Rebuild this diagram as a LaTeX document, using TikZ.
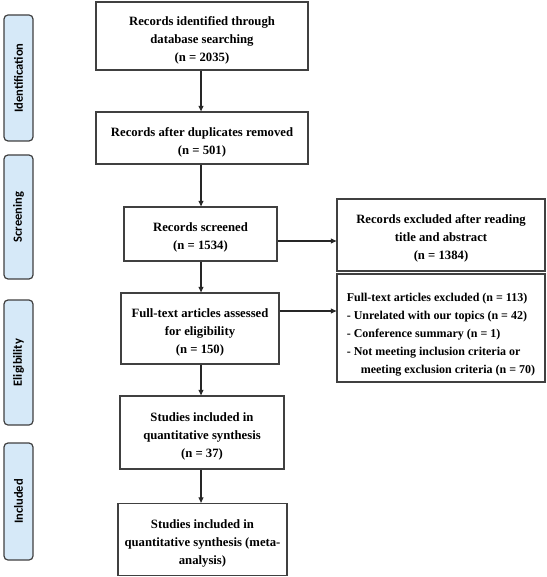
\documentclass[tikz,border=0pt]{standalone}
\usepackage{fontspec}
\setmainfont{Liberation Serif}
\newfontfamily\sidefont{Carlito}
\usetikzlibrary{arrows.meta,calc}
\definecolor{boxline}{HTML}{404040}
\definecolor{sidefill}{HTML}{D6E9F8}
\newcommand\topstrut[1]{\rule{0pt}{#1}}
\begin{document}
\begin{tikzpicture}[x=1pt,y=-1pt,
  box/.style={draw=boxline,line width=1.3pt,fill=white,align=center,inner sep=2pt,
    font=\bfseries\fontsize{12.7}{18}\selectfont},
  sidebox/.style={draw=boxline,line width=1.2pt,fill=sidefill,rounded corners=4pt,
    minimum width=29pt},
  sidetext/.style={rotate=90,font=\sidefont\bfseries\fontsize{12.5}{14}\selectfont},
  arr/.style={draw=black!85,line width=1.1pt,-{Triangle[length=5.5pt,width=5pt]}}]
\useasboundingbox (0,0) rectangle (546,577);
% side labels
\node[sidebox,minimum height=126pt] (sI) at (18.5,78) {};
\node[sidetext] (tI) at (sI.center) {Identification};
\node[sidebox,minimum height=124pt] (sS) at (18.5,217) {};
\node[sidetext] (tS) at (sS.center) {Screening};
\node[sidebox,minimum height=125pt] (sE) at (18.5,362.5) {};
\node[sidetext] (tE) at (sE.center) {Eligibility};
\node[sidebox,minimum height=117pt] (sN) at (18.5,501.5) {};
\node[sidetext] (tN) at (sN.center) {Included};
% main boxes
\node[box,minimum width=212pt,minimum height=68pt] (b1) at (202,36)
  {\topstrut{17pt}Records identified through\\database searching\\(n = 2035)};
\node[box,minimum width=212pt,minimum height=52pt] (b2) at (202,138)
  {\topstrut{17pt}Records after duplicates removed\\(n = 501)};
\node[box,minimum width=153pt,minimum height=54pt] (b3) at (200.5,234)
  {\topstrut{16pt}Records screened\\(n = 1534)};
\node[box,minimum width=158pt,minimum height=71pt] (b4) at (200,328.5)
  {\topstrut{16pt}Full-text articles assessed\\for eligibility\\(n = 150)};
\node[box,minimum width=164pt,minimum height=73pt] (b5) at (202,432.5)
  {\topstrut{16pt}Studies included in\\quantitative synthesis\\(n = 37)};
\node[box,minimum width=169pt,minimum height=72pt] (b6) at (202.5,539.5)
  {\topstrut{16pt}Studies included in\\quantitative synthesis (meta-\\analysis)};
\node[box,minimum width=208pt,minimum height=72pt] (r1) at (441,235)
  {\topstrut{15pt}Records excluded after reading\\title and abstract\\(n = 1384)};
\node[box,minimum width=208pt,minimum height=108pt,align=left,
  font=\bfseries\fontsize{12}{18}\selectfont] (r2) at (441,328)
  {\topstrut{21pt}Full-text articles excluded (n = 113)\\
   - Unrelated with our topics (n = 42)\\
   - Conference summary (n = 1)\\
   - Not meeting inclusion criteria or\\
   \makebox[14pt]{}meeting exclusion criteria (n = 70)};
% connectors
\coordinate (ax) at (201,0);
\draw[arr] (b1.south -| ax) -- (b2.north -| ax);
\draw[arr] (b2.south -| ax) -- (b3.north -| ax);
\draw[arr] (b3.south -| ax) -- (b4.north -| ax);
\draw[arr] (b4.south -| ax) -- (b5.north -| ax);
\draw[arr] (b5.south -| ax) -- (b6.north -| ax);
\draw[arr] ([yshift=-7pt]b3.east) -- ([yshift=-7pt]b3.east -| r1.west);
\draw[arr] ([yshift=17.5pt]b4.east) -- ([yshift=17.5pt]b4.east -| r2.west);
\end{tikzpicture}
\end{document}
